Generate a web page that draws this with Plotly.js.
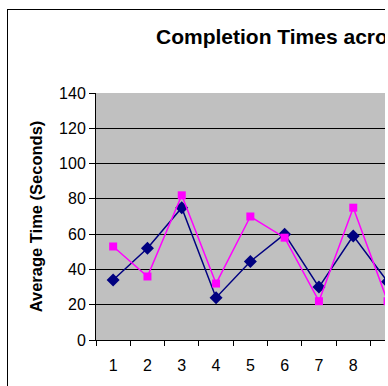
<!DOCTYPE html>
<html>
<head>
<meta charset="utf-8">
<script src="https://cdn.plot.ly/plotly-3.0.1.min.js"></script>
<style>
  html, body { margin: 0; padding: 0; background: #fff; overflow: hidden; }
  #clip { position: absolute; left: 0; top: 0; width: 385px; height: 386px; overflow: hidden; }
  #chart { position: absolute; left: 0; top: 0; width: 460px; height: 386px; }
  #frame { position: absolute; left: 7px; top: 9px; width: 500px; height: 500px;
           border-left: 1px solid #000; border-top: 1px solid #000; pointer-events: none; }
</style>
</head>
<body>
<div id="clip">
  <div id="chart"></div>
  <div id="frame"></div>
</div>
<script>
const categories = ["1", "2", "3", "4", "5", "6", "7", "8", "9"];
const seriesNavy = [34, 52, 75, 24, 44.5, 60, 30, 59, 33];
const seriesPink = [53, 36, 82, 32, 70, 58, 22, 75, 22];
const visibleTickLabels = ["1", "2", "3", "4", "5", "6", "7", "8"];
const yTitle = "Average Time (Seconds)";
const chartTitle = "Completion Times across Trials";

const W = 460, H = 386;
const font = "Arial, 'Liberation Sans', sans-serif";

const traces = [
  {
    x: categories, y: seriesNavy, type: "scatter", mode: "lines+markers",
    line: { color: "#000080", width: 1.5 },
    marker: { symbol: "diamond", size: 10, color: "#000080" },
    cliponaxis: false
  },
  {
    x: categories, y: seriesPink, type: "scatter", mode: "lines+markers",
    line: { color: "#FF00FF", width: 1.5 },
    marker: { symbol: "square", size: 8, color: "#FF00FF" },
    cliponaxis: false
  }
];

const layout = {
  width: W, height: H,
  margin: { l: 96, r: 21, t: 93, b: 46 },
  paper_bgcolor: "rgba(0,0,0,0)",
  plot_bgcolor: "#C0C0C0",
  showlegend: false,
  font: { family: font, color: "#000", size: 16 },
  title: {
    text: "<b>" + chartTitle + "</b>",
    font: { family: font, size: 21, color: "#000" },
    xref: "container", x: 156 / W, xanchor: "left",
    yref: "container", y: 1 - 37 / H, yanchor: "middle"
  },
  xaxis: {
    type: "category",
    range: [-0.5, 9.5],
    tickmode: "array",
    tickvals: visibleTickLabels,
    ticktext: visibleTickLabels,
    tickson: "boundaries",
    ticks: "outside", ticklen: 5, tickcolor: "#000", tickwidth: 1,
    ticklabelstandoff: 11,
    showline: true, linecolor: "#000", linewidth: 1,
    showgrid: false, zeroline: false,
    tickfont: { family: font, size: 16 },
    fixedrange: true
  },
  yaxis: {
    range: [0, 140], dtick: 20,
    ticks: "outside", ticklen: 6, tickcolor: "#000", tickwidth: 1,
    showline: true, linecolor: "#000", linewidth: 1,
    showgrid: true, gridcolor: "#000", gridwidth: 1,
    zeroline: false,
    tickfont: { family: font, size: 16 },
    title: { text: "<b>" + yTitle + "</b>", font: { family: font, size: 16.5 }, standoff: 12 },
    fixedrange: true
  }
};

Plotly.newPlot("chart", traces, layout, { displayModeBar: false, staticPlot: true });
</script>
</body>
</html>
